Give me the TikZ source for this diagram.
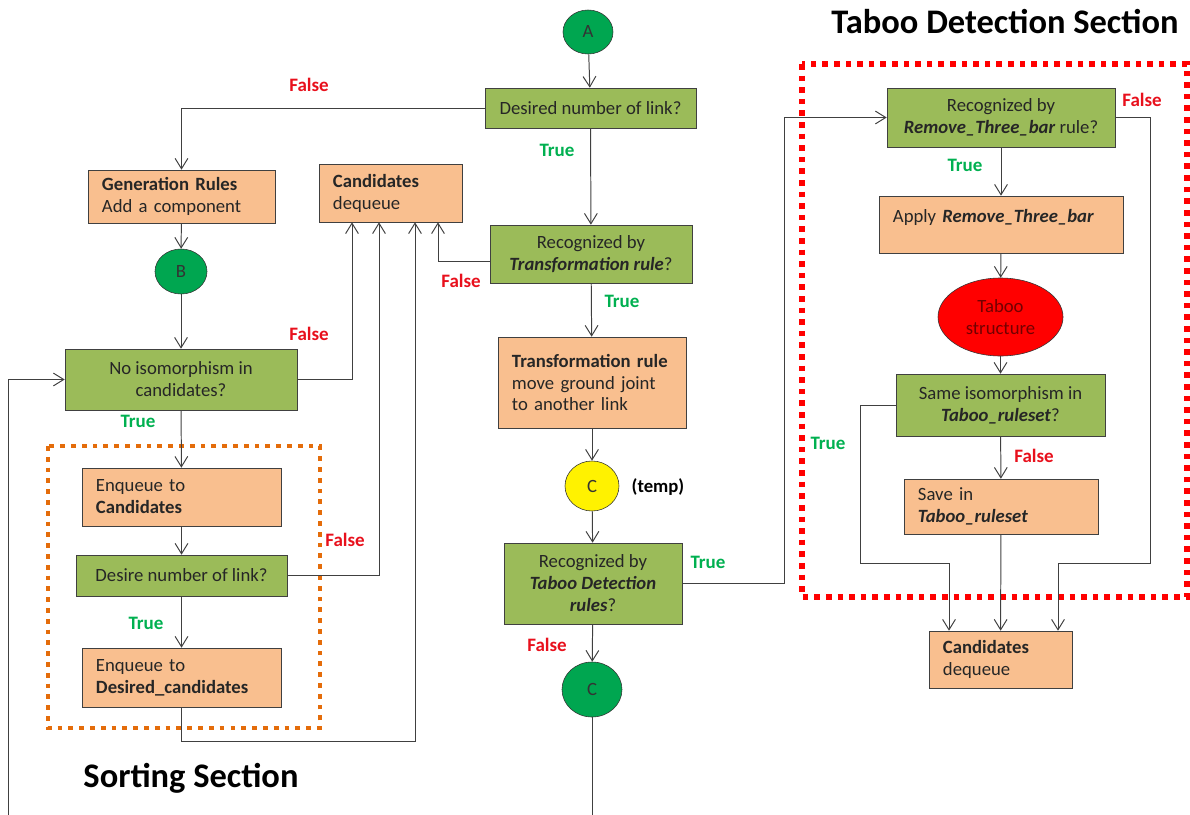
\documentclass[tikz,border=0pt]{standalone}
\usepackage{fontspec}
\setmainfont{Carlito}
\usetikzlibrary{arrows.meta,calc,positioning,shapes.geometric}
\definecolor{BoxGreen}{HTML}{9BBB59}
\definecolor{BoxOrange}{HTML}{F9BF8F}
\definecolor{JointGreen}{HTML}{00A650}
\definecolor{TrueGreen}{HTML}{00B050}
\definecolor{FalseRed}{HTML}{E8101C}
\definecolor{SortOrange}{HTML}{E46C0A}
\newcommand{\rulename}[1]{\textbf{\textit{#1}}}

\begin{document}
\begin{tikzpicture}[x=0.025cm,y=-0.025cm,
    gbox/.style={draw=black!75,fill=BoxGreen,align=center,inner sep=2pt,
                 font=\fontsize{13.3}{15.6}\selectfont,text=black!85},
    obox/.style={draw=black!75,fill=BoxOrange,align=left,inner xsep=0.35cm,
                 font=\fontsize{13.3}{15.6}\selectfont,text=black!85},
    joint/.style={ellipse,draw=black!80,fill=JointGreen,inner sep=0pt,
                  font=\fontsize{13.3}{15}\selectfont,text=black!80},
    arr/.style={-{Straight Barb[length=2.6mm,width=3.2mm]},black!75,line width=0.7pt},
    wire/.style={black!75,line width=0.7pt},
    truelbl/.style={font=\fontsize{13.5}{15}\selectfont\bfseries,text=TrueGreen},
    falselbl/.style={font=\fontsize{13.5}{15}\selectfont\bfseries,text=FalseRed},
    sect/.style={font=\fontsize{24.5}{28}\selectfont\bfseries,text=black}]
  \useasboundingbox (0,0) rectangle (1190,815);

  % section frames
  \draw[SortOrange,line width=0.1cm,dash pattern=on 0.12cm off 0.15cm]
    (48,446) rectangle (320,728);
  \draw[red,line width=0.13cm,dash pattern=on 0.14cm off 0.15cm]
    (802,64) rectangle (1187,597);
  \node[sect] (sorttitle) at (191,778) {Sorting Section};
  \node[sect] (tabootitle) at (1005,22) {Taboo Detection Section};

  % middle column
  \node[joint,minimum width=1.25cm,minimum height=1.1cm] (A) at (588,32) {A};
  \node[gbox,minimum width=5.275cm,minimum height=1cm] (dnl) at (590.5,108)
    {Desired number of link?};
  \node[gbox,minimum width=5.05cm,minimum height=1.45cm] (rtr) at (591,254)
    {Recognized by\\\rulename{Transformation rule}?};
  \node[obox,text width=4cm,minimum height=2.275cm] (tr) at (592,382.5)
    {\textbf{Transformation rule}\\move ground joint\\to another link};
  \node[joint,fill=yellow,minimum width=1.35cm,minimum height=1.25cm] (Ctemp) at (592,486) {C};
  \node[font=\fontsize{13.3}{15}\selectfont\bfseries] (temp) at (658,487) {(temp)};
  \node[gbox,minimum width=4.45cm,minimum height=2.025cm] (td) at (593,583.5)
    {Recognized by\\\rulename{Taboo Detection}\\\rulename{rules}?};
  \node[joint,minimum width=1.5cm,minimum height=1.375cm] (C) at (592,689.5) {C};
  \coordinate (Cend) at (592,815);

  % left column
  \node[obox,text width=3.975cm,minimum height=1.325cm] (gen) at (181.5,196.5)
    {\textbf{Generation Rules}\\Add a component};
  \node[obox,text width=2.875cm,minimum height=1.45cm] (cand) at (390.5,193)
    {\textbf{Candidates}\\dequeue};
  \node[joint,minimum width=1.3cm,minimum height=1.125cm] (B) at (181,271.5) {B};
  \node[gbox,minimum width=5.8cm,minimum height=1.525cm] (iso) at (181,379.5)
    {No isomorphism in\\candidates?};
  \coordinate (loopin) at (8,815);
  \node[obox,text width=4.275cm,minimum height=1.45cm] (enq) at (181.5,497)
    {Enqueue to\\\textbf{Candidates}};
  \node[gbox,minimum width=5.275cm,minimum height=1.025cm] (dn) at (181.5,575.5)
    {Desire number of link?};
  \node[obox,text width=4.275cm,minimum height=1.475cm] (enqd) at (181.5,677.5)
    {Enqueue to\\\textbf{Desired\_candidates}};

  % right column
  \node[gbox,minimum width=5.7cm,minimum height=1.475cm] (rtb) at (1001,117.5)
    {Recognized by\\\rulename{Remove\_Three\_bar} rule?};
  \node[obox,text width=5.4cm,minimum height=1.425cm,text depth=0.45cm] (apply) at (1001,224.5)
    {Apply \rulename{Remove\_Three\_bar}};
  \node[ellipse,draw=black!80,fill=red,inner sep=0pt,minimum width=3.125cm,
        minimum height=1.95cm,align=center,text=red!45!black,
        font=\fontsize{13.3}{15.6}\selectfont] (taboo) at (1000.5,317) {Taboo\\structure};
  \node[gbox,minimum width=5.225cm,minimum height=1.55cm] (same) at (1000.5,405)
    {Same isomorphism in\\\rulename{Taboo\_ruleset}?};
  \node[obox,text width=4.15cm,minimum height=1.375cm] (save) at (1001,506.5)
    {Save in\\\rulename{Taboo\_ruleset}};
  \node[obox,text width=2.875cm,minimum height=1.425cm] (cand2) at (1000.5,659.5)
    {\textbf{Candidates}\\dequeue};

  % branch labels
  \node[falselbl] (f1) at (309,85) {False};
  \node[truelbl] (t1) at (557,150) {True};
  \node[falselbl] (f2) at (461,281) {False};
  \node[truelbl] (t2) at (622,301) {True};
  \node[truelbl] (t3) at (708,562) {True};
  \node[falselbl] (f3) at (547,645) {False};
  \node[falselbl] (f4) at (309,334) {False};
  \node[truelbl] (t4) at (138,421) {True};
  \node[falselbl] (f5) at (345,540) {False};
  \node[truelbl] (t5) at (146,623) {True};
  \node[falselbl] (f6) at (1142,100) {False};
  \node[truelbl] (t6) at (965,165) {True};
  \node[truelbl] (t7) at (828,443) {True};
  \node[falselbl] (f7) at (1034,456) {False};

  % connectors
  \draw[arr] (A) -- (dnl);
  \draw[arr] (dnl.west) -| (gen.north);
  \draw[arr] (dnl) -- (rtr);
  \draw[arr] ($(rtr.west)+(0,7)$) -| ($(cand.south)+(47.5,0)$);
  \draw[arr] (rtr) -- (tr);
  \draw[arr] (tr) -- (Ctemp);
  \draw[arr] (Ctemp) -- (td);
  \draw[arr] (td.east) -- ++(102,0) |- (rtb.west);
  \draw[arr] (td) -- (C);
  \draw[wire] (C) -- (Cend);

  \draw[arr] (gen) -- (B);
  \draw[arr] (B) -- (iso);
  \draw[arr] (iso.east) -| ($(cand.south)+(-38.5,0)$);
  \draw[arr] (loopin) |- (iso.west);
  \draw[arr] (iso) -- (enq);
  \draw[arr] (enq) -- (dn);
  \draw[arr] (dn.east) -| ($(cand.south)+(-11.5,0)$);
  \draw[arr] (dn) -- (enqd);
  \draw[arr] (enqd.south) -- ++(0,34) -| ($(cand.south)+(24.5,0)$);

  \draw[arr] (rtb) -- (apply);
  \draw[arr] (apply) -- (taboo);
  \draw[arr] (taboo) -- (same);
  \draw[arr] (same) -- (save);
  \draw[arr] (save) -- (cand2);
  \draw[arr] (rtb.east) -- ++(35,0) -- ++(0,445.5) -| ($(cand2.north)+(57.5,0)$);
  \draw[arr] (same.west) -- ++(-35,0) |- ($(cand2.north)+(-51.5,-67)$)
    -- ($(cand2.north)+(-51.5,0)$);
\end{tikzpicture}
\end{document}
